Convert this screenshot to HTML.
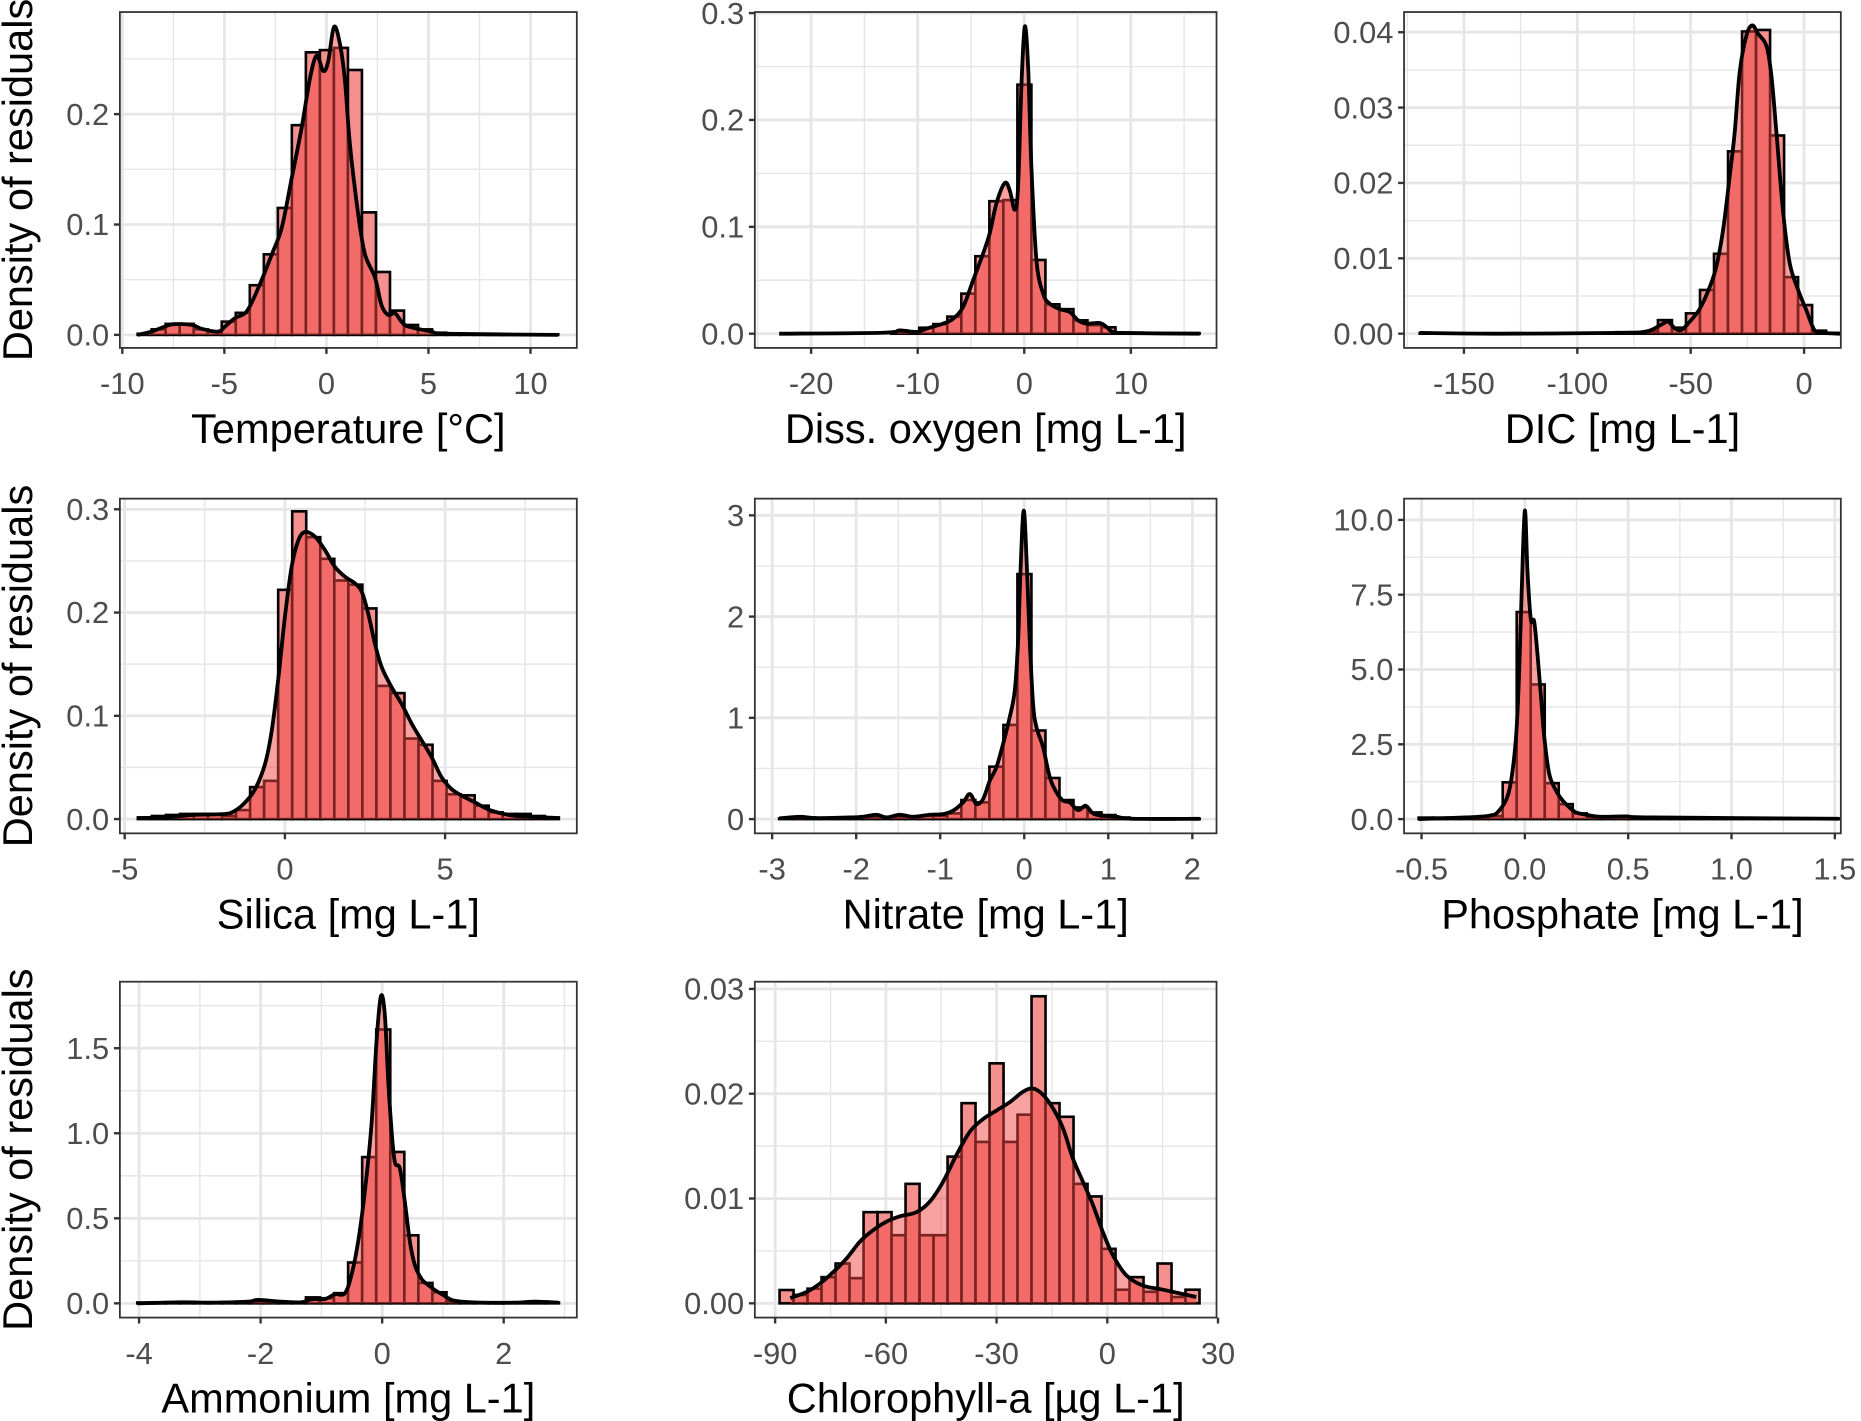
<!DOCTYPE html>
<html><head><meta charset="utf-8"><title>Density of residuals</title>
<style>
html,body{margin:0;padding:0;background:#fff;}
svg{display:block;}
text{font-family:"Liberation Sans",Arial,sans-serif;}
</style></head>
<body>
<svg id="fig" width="1861" height="1421" viewBox="0 0 1568 1197" xmlns="http://www.w3.org/2000/svg">
<rect x="0" y="0" width="1568" height="1197" fill="#fff"/>
</svg>
<script>
// ---------- data ----------
// Temperature
const tempBinStart = -9.25, tempBinWidth = 0.687;
const tempBins = [0.001,0.005,0.01,0.01,0.005,0.003,0.012,0.02,0.045,0.073,0.115,0.19,0.256,0.258,0.26,0.24,0.111,0.057,0.022,0.009,0.005,0.002,0.001,0.001,0.001,0.0005,0.0005,0.0005,0.0005,0.0005];
const tempDensX = [-9.25,-8.56,-7.91,-7.5,-6.6,-6.11,-5.3,-4.97,-4.48,-3.91,-3.34,-2.68,-2.19,-1.7,-1.21,-0.81,-0.48,-0.15,0.09,0.37,0.66,0.91,1.15,1.56,1.89,2.38,2.7,3.03,3.36,3.68,4.01,5.15,5.97,11.36];
const tempDensY = [0,0.003,0.0076,0.0097,0.0091,0.0055,0.003,0.0076,0.0152,0.0212,0.0424,0.0727,0.097,0.142,0.188,0.232,0.253,0.239,0.248,0.279,0.264,0.23,0.173,0.109,0.073,0.052,0.027,0.018,0.0197,0.012,0.0076,0.003,0.001,0];
// Dissolved oxygen
const oxyBinStart = -23.0, oxyBinWidth = 1.315;
const oxyBins = [0,0,0,0,0,0,0,0,0.0015,0.002,0.0056,0.009,0.016,0.0375,0.0725,0.124,0.125,0.233,0.069,0.0275,0.023,0.0125,0.008,0.006,0.001,0.001,0.0005,0.0005,0.0005,0.0005];
const oxyDensX = [-23.0,-13.24,-11.68,-10.12,-9.18,-7.61,-6.68,-5.74,-4.8,-3.86,-3.24,-2.61,-1.83,-1.36,-0.89,-0.58,-0.26,0.05,0.36,0.67,1.14,1.77,2.39,3.33,4.27,5.05,5.83,7.08,7.71,8.33,9.58,16.46];
const oxyDensY = [0,0.0009,0.0031,0.0016,0.0047,0.0094,0.014,0.025,0.05,0.075,0.094,0.122,0.141,0.134,0.116,0.1375,0.234,0.2875,0.25,0.156,0.069,0.0375,0.028,0.023,0.0203,0.0125,0.0094,0.01,0.0063,0.0016,0.0006,0];
// DIC
const dicBinStart = -169.5, dicBinWidth = 6.18;
const dicBins = [0.0001,0,0,0,0,0,0,0,0,0,0,0,0,0.0001,0.0002,0.0002,0.0003,0.0018,0.0008,0.0027,0.0058,0.0106,0.0242,0.0401,0.0403,0.0263,0.0075,0.0038,0.0004,0.0001];
const dicDensX = [-169.5,-134.2,-82.7,-69.5,-63.6,-60.0,-57.0,-54.1,-50.4,-46.0,-41.6,-38.7,-35.7,-32.8,-30.6,-28.4,-25.4,-22.8,-20.3,-16.6,-14.4,-12.2,-9.2,-6.3,-2.6,1.0,4.7,8.4,16.0];
const dicDensY = [0.0001,0,0.0001,0.0003,0.0011,0.0016,0.0007,0.0005,0.0016,0.0033,0.0062,0.0089,0.0138,0.0209,0.0267,0.0347,0.0396,0.0409,0.0398,0.0382,0.0342,0.0267,0.016,0.0093,0.0058,0.0031,0.0004,0.0001,0];
// Silica
const silBinStart = -4.59, silBinWidth = 0.438;
const silBins = [0.0016,0.003,0.004,0.005,0.005,0.005,0.003,0.0087,0.031,0.037,0.222,0.298,0.273,0.252,0.231,0.227,0.204,0.129,0.122,0.078,0.072,0.037,0.024,0.023,0.013,0.0065,0.005,0.005,0.003,0.0016];
const silDensX = [-4.59,-3.74,-2.8,-1.87,-1.56,-1.24,-0.93,-0.62,-0.41,-0.2,0.0,0.21,0.42,0.63,0.94,1.25,1.56,1.88,2.19,2.4,2.6,2.81,3.02,3.33,3.64,3.96,4.27,4.58,4.89,5.2,5.52,5.93,6.45,7.18,8.55];
const silDensY = [0.001,0.0016,0.0042,0.0049,0.0081,0.0162,0.029,0.0534,0.0858,0.1376,0.1958,0.2443,0.27,0.278,0.2735,0.2605,0.2443,0.2346,0.2282,0.22,0.199,0.1699,0.1472,0.1278,0.1117,0.0922,0.0761,0.0599,0.0405,0.0291,0.0227,0.0162,0.0081,0.0032,0.001];
// Nitrate
const nitBinStart = -2.917, nitBinWidth = 0.1668;
const nitBins = [0.007,0.01,0.01,0.01,0.008,0.01,0.023,0.023,0.016,0.023,0.033,0.033,0.056,0.188,0.165,0.518,0.93,2.42,0.875,0.406,0.188,0.115,0.066,0.04,0.016,0.007,0.005,0.005,0.005,0.005];
const nitDensX = [-2.917,-2.671,-2.473,-2.076,-1.918,-1.759,-1.64,-1.481,-1.323,-1.124,-0.966,-0.847,-0.728,-0.648,-0.569,-0.49,-0.41,-0.331,-0.252,-0.173,-0.113,-0.073,-0.046,-0.006,0.034,0.065,0.105,0.145,0.224,0.304,0.383,0.462,0.541,0.641,0.732,0.819,0.938,1.097,1.295,2.088];
const nitDensY = [0.007,0.023,0.01,0.0165,0.023,0.043,0.0165,0.043,0.023,0.043,0.0495,0.083,0.165,0.248,0.149,0.198,0.38,0.512,0.743,1.007,1.271,1.766,2.426,3.046,2.426,1.766,1.139,0.908,0.71,0.413,0.264,0.181,0.165,0.089,0.132,0.056,0.033,0.023,0.003,0.003];
// Phosphate
const phoBinStart = -0.514, phoBinWidth = 0.0678;
const phoBins = [0.05,0.05,0.05,0.05,0.05,0.1,1.23,6.92,4.5,1.2,0.5,0.19,0.06,0.04,0.04,0.03,0.03,0.03,0.03,0.02,0.02,0.02,0.02,0.02,0.02,0.02,0.02,0.02,0.02,0.02];
const phoDensX = [-0.514,-0.287,-0.173,-0.125,-0.076,-0.044,-0.028,-0.015,0,0.013,0.029,0.045,0.062,0.078,0.094,0.118,0.151,0.183,0.216,0.248,0.297,0.361,0.491,0.62,1.52];
const phoDensY = [0,0.056,0.112,0.28,0.95,2.63,4.82,7.68,10.31,8.24,6.67,6.61,5.44,4.09,2.74,1.51,0.95,0.62,0.39,0.22,0.146,0.078,0.09,0.056,0.011];
// Ammonium
const ammBinStart = -4.03, ammBinWidth = 0.2313;
const ammBins = [0.005,0.005,0.005,0.005,0.005,0.005,0.008,0.01,0.01,0.01,0.008,0.006,0.035,0.03,0.06,0.24,0.86,1.61,0.89,0.40,0.12,0.065,0.01,0.006,0.005,0.005,0.005,0.005,0.005,0.005];
const ammDensX = [-4.03,-3.3,-2.76,-2.21,-2.04,-1.66,-1.33,-1.16,-0.944,-0.779,-0.615,-0.505,-0.395,-0.285,-0.176,-0.093,-0.022,0.044,0.11,0.198,0.291,0.373,0.456,0.538,0.648,0.757,0.867,1.005,1.142,1.306,1.636,2.184,2.514,2.909];
const ammDensY = [0,0.006,0.004,0.01,0.02,0.01,0.006,0.024,0.025,0.053,0.059,0.167,0.363,0.657,1.049,1.539,1.804,1.696,1.245,0.853,0.794,0.598,0.363,0.225,0.143,0.108,0.078,0.049,0.02,0.01,0.004,0.004,0.01,0.004];
// Chlorophyll-a
const chlBinStart = -88.8, chlBinWidth = 3.793;
const chlBins = [0.00127,0.0008,0.0014,0.0025,0.0038,0.0024,0.0087,0.0087,0.0065,0.0114,0.0065,0.0065,0.014,0.0191,0.0154,0.0229,0.0154,0.018,0.0293,0.0191,0.0178,0.0114,0.0102,0.0052,0.0013,0.0025,0.0011,0.0038,0.0006,0.0013];
const chlDensX = [-85.9,-81.4,-77.8,-74.2,-70.6,-67.0,-63.4,-59.8,-56.2,-51.7,-48.1,-44.5,-40.8,-37.2,-33.6,-30.0,-26.4,-22.8,-20.1,-17.4,-14.7,-12.0,-9.3,-6.6,-3.9,-1.2,1.5,5.1,9.6,15.1,24.1];
const chlDensY = [0.0005,0.0011,0.0019,0.003,0.0043,0.0059,0.007,0.0078,0.0083,0.0087,0.0097,0.0116,0.0142,0.0164,0.0176,0.0184,0.0192,0.0202,0.0205,0.0199,0.0186,0.0167,0.0138,0.0116,0.0094,0.0068,0.0046,0.0027,0.0017,0.0013,0.0006];

// tick labels
const tempXTicks = ["-10","-5","0","5","10"], tempYTicks = ["0.0","0.1","0.2"];
const oxyXTicks = ["-20","-10","0","10"], oxyYTicks = ["0.0","0.1","0.2","0.3"];
const dicXTicks = ["-150","-100","-50","0"], dicYTicks = ["0.00","0.01","0.02","0.03","0.04"];
const silXTicks = ["-5","0","5"], silYTicks = ["0.0","0.1","0.2","0.3"];
const nitXTicks = ["-3","-2","-1","0","1","2"], nitYTicks = ["0","1","2","3"];
const phoXTicks = ["-0.5","0.0","0.5","1.0","1.5"], phoYTicks = ["0.0","2.5","5.0","7.5","10.0"];
const ammXTicks = ["-4","-2","0","2"], ammYTicks = ["0.0","0.5","1.0","1.5"];
const chlXTicks = ["-90","-60","-30","0","30"], chlYTicks = ["0.00","0.01","0.02","0.03"];

// ---------- layout ----------
const NS = "http://www.w3.org/2000/svg";
const svg = document.getElementById('fig');
const cols = [[101,486],[636,1025],[1183,1551]];
const rows = [[10,293],[420,702],[827,1110]];

const panels = [
  {key:'temperature', c:0,r:0, xd:[-10.12,12.27], yd:[-0.0118,0.2925], xt:tempXTicks, yt:tempYTicks, title:'Temperature [°C]', bs:tempBinStart, bw:tempBinWidth, bins:tempBins, dx:tempDensX, dy:tempDensY},
  {key:'oxygen', c:1,r:0, xd:[-25.28,18.04], yd:[-0.0133,0.301], xt:oxyXTicks, yt:oxyYTicks, title:'Diss. oxygen [mg L-1]', bs:oxyBinStart, bw:oxyBinWidth, bins:oxyBins, dx:oxyDensX, dy:oxyDensY},
  {key:'dic', c:2,r:0, xd:[-176.4,16.2], yd:[-0.00189,0.04268], xt:dicXTicks, yt:dicYTicks, title:'DIC [mg L-1]', bs:dicBinStart, bw:dicBinWidth, bins:dicBins, dx:dicDensX, dy:dicDensY},
  {key:'silica', c:0,r:1, xd:[-5.15,9.11], yd:[-0.0138,0.3103], xt:silXTicks, yt:silYTicks, title:'Silica [mg L-1]', bs:silBinStart, bw:silBinWidth, bins:silBins, dx:silDensX, dy:silDensY},
  {key:'nitrate', c:1,r:1, xd:[-3.206,2.288], yd:[-0.1407,3.165], xt:nitXTicks, yt:nitYTicks, title:'Nitrate [mg L-1]', bs:nitBinStart, bw:nitBinWidth, bins:nitBins, dx:nitDensX, dy:nitDensY},
  {key:'phosphate', c:2,r:1, xd:[-0.5845,1.529], yd:[-0.476,10.71], xt:phoXTicks, yt:phoYTicks, title:'Phosphate [mg L-1]', bs:phoBinStart, bw:phoBinWidth, bins:phoBins, dx:phoDensX, dy:phoDensY},
  {key:'ammonium', c:0,r:2, xd:[-4.316,3.203], yd:[-0.0837,1.891], xt:ammXTicks, yt:ammYTicks, title:'Ammonium [mg L-1]', bs:ammBinStart, bw:ammBinWidth, bins:ammBins, dx:ammDensX, dy:ammDensY},
  {key:'chlorophyll', c:1,r:2, xd:[-95.5,29.6], yd:[-0.00136,0.03069], xt:chlXTicks, yt:chlYTicks, title:'Chlorophyll-a [µg L-1]', bs:chlBinStart, bw:chlBinWidth, bins:chlBins, dx:chlDensX, dy:chlDensY}
];

function mk(tag, attrs, parent){
  const e = document.createElementNS(NS, tag);
  for (const k in attrs) e.setAttribute(k, attrs[k]);
  (parent||svg).appendChild(e);
  return e;
}
function smoothPath(pts){
  let d = 'M'+pts[0][0].toFixed(2)+','+pts[0][1].toFixed(2);
  for (let i=0;i<pts.length-1;i++){
    const p0=pts[Math.max(0,i-1)], p1=pts[i], p2=pts[i+1], p3=pts[Math.min(pts.length-1,i+2)];
    const c1=[p1[0]+(p2[0]-p0[0])/6, p1[1]+(p2[1]-p0[1])/6];
    const c2=[p2[0]-(p3[0]-p1[0])/6, p2[1]-(p3[1]-p1[1])/6];
    d += ' C'+c1[0].toFixed(2)+','+c1[1].toFixed(2)+' '+c2[0].toFixed(2)+','+c2[1].toFixed(2)+' '+p2[0].toFixed(2)+','+p2[1].toFixed(2);
  }
  return d;
}

panels.forEach(p=>{
  const [L,R] = cols[p.c], [T,B] = rows[p.r];
  const sx = v => L + (v-p.xd[0])/(p.xd[1]-p.xd[0])*(R-L);
  const sy = v => B - (v-p.yd[0])/(p.yd[1]-p.yd[0])*(B-T);
  const g = mk('g', {});
  
  
  const clipId = 'clip-'+p.key;
  const cp = mk('clipPath', {id:clipId}, g);
  mk('rect', {x:L, y:T, width:R-L, height:B-T}, cp);

  const xv = p.xt.map(Number), yv = p.yt.map(Number);
  const xs = xv[1]-xv[0], ys = yv[1]-yv[0];
  const grid = mk('g', {'clip-path':'url(#'+clipId+')'}, g);
  
  
  for (let v = xv[0]-xs*1.5; v <= xv[xv.length-1]+xs*1.5; v += xs/2){
    const major = Math.abs(((v-xv[0])/xs) - Math.round((v-xv[0])/xs)) < 1e-6;
    const x = sx(v);
    if (x < L || x > R) continue;
    mk('line', {x1:x, x2:x, y1:T, y2:B, stroke:'#E6E6E6', 'stroke-width': major?2.4:1.2}, grid);
  }
  for (let v = yv[0]-ys*1.5; v <= yv[yv.length-1]+ys*1.5; v += ys/2){
    const major = Math.abs(((v-yv[0])/ys) - Math.round((v-yv[0])/ys)) < 1e-6;
    const y = sy(v);
    if (y < T || y > B) continue;
    mk('line', {x1:L, x2:R, y1:y, y2:y, stroke:'#E6E6E6', 'stroke-width': major?2.4:1.2}, grid);
  }
  const bars = mk('g', {'clip-path':'url(#'+clipId+')'}, g);
  
  
  p.bins.forEach((h,i)=>{
    const x0 = sx(p.bs + i*p.bw), x1 = sx(p.bs + (i+1)*p.bw);
    const y0 = sy(0), y1 = sy(h);
    const r = mk('rect', {x:x0, y:Math.min(y0,y1), width:x1-x0, height:Math.abs(y0-y1), fill:'#F4908E', stroke:'#000', 'stroke-width':2.2}, bars);
    
    
  });
  const pts = p.dx.map((v,i)=>[sx(v), sy(p.dy[i])]);
  const line = smoothPath(pts);
  const area = mk('path', {d: line+' L'+pts[pts.length-1][0]+','+sy(0)+' L'+pts[0][0]+','+sy(0)+' Z', fill:'rgba(240,70,65,0.5)', stroke:'none', 'clip-path':'url(#'+clipId+')'}, g);
  
  
  const dl = mk('path', {d: line, fill:'none', stroke:'#000', 'stroke-width':3.2, 'stroke-linejoin':'round', 'clip-path':'url(#'+clipId+')'}, g);
  
  
  const br = mk('rect', {x:L, y:T, width:R-L, height:B-T, fill:'none', stroke:'#333', 'stroke-width':1.5}, g);
  
  
  p.xt.forEach((lab,i)=>{
    const x = sx(xv[i]);
    const tk = mk('line', {x1:x, x2:x, y1:B, y2:B+5, stroke:'#333', 'stroke-width':2}, g);
    
    
    const t = mk('text', {x:x, y:B+39, 'text-anchor':'middle', 'font-size':26, fill:'#4D4D4D'}, g);
    t.textContent = lab;
    
    
  });
  p.yt.forEach((lab,i)=>{
    const y = sy(yv[i]);
    const tk = mk('line', {x1:L-5, x2:L, y1:y, y2:y, stroke:'#333', 'stroke-width':2}, g);
    
    
    const t = mk('text', {x:L-9, y:y+9, 'text-anchor':'end', 'font-size':26, fill:'#4D4D4D'}, g);
    t.textContent = lab;
    
    
  });
  const xt = mk('text', {x:(L+R)/2, y:B+80, 'text-anchor':'middle', 'font-size':35, fill:'#000'}, g);
  xt.textContent = p.title;
  
  
  if (p.c === 0){
    const cy = (T+B)/2;
    const yt = mk('text', {x:0, y:0, transform:'translate(27,'+cy+') rotate(-90)', 'text-anchor':'middle', 'font-size':35, fill:'#000'}, g);
    yt.textContent = 'Density of residuals';
    
    
  }
});
</script>
</body></html>
